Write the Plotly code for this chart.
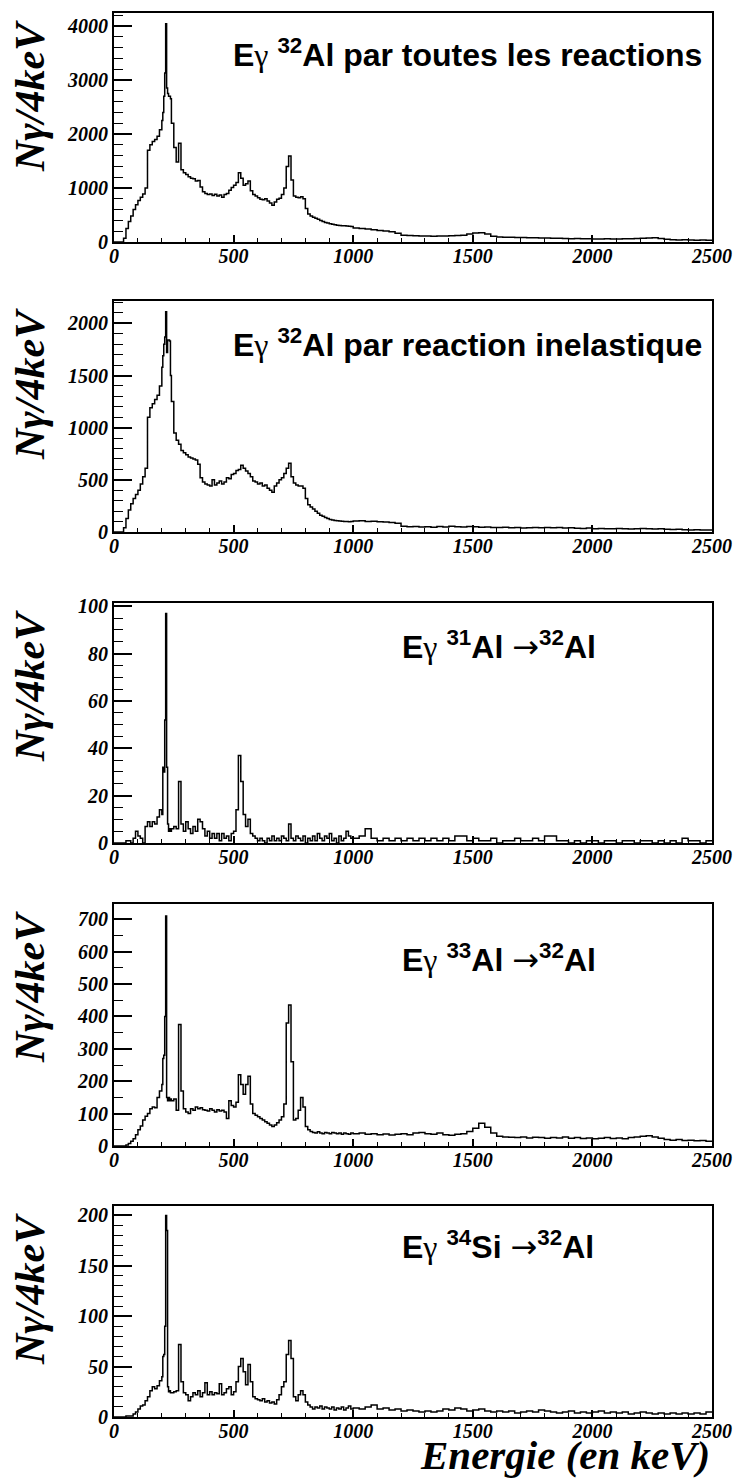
import plotly.graph_objects as go

W, H = 733, 1479

# Bin lower edges in keV (10 keV below 200, 4 keV from 200 to 240, 10 keV to 1000, 25 keV to 2500)
bin_edges = (list(range(0, 200, 10)) + list(range(200, 240, 4))
             + list(range(240, 1000, 10)) + list(range(1000, 2501, 25)))

# ---- counts per bin ----
counts_all = (
    [0, 0, 0, 0, 70, 250, 380, 480, 600, 690, 770, 830, 890, 1000, 1700, 1800, 1860, 1900, 1960, 2080]
    + [2250, 2400, 2700, 3130, 4040, 2850, 2750, 2700, 2700, 2650]
    + [2200, 1750, 1480, 1830, 1340, 1280,
       1250, 1210, 1180, 1170, 1130, 1140, 1020, 930, 900, 880,
       890, 860, 885, 850, 870, 830, 880, 900, 960, 1010,
       1050, 1100, 1280, 1180, 1050, 1080, 1130, 950, 880, 850,
       820, 790, 780, 800, 760, 720, 680, 740, 790, 810,
       880, 1000, 1400, 1590, 1150, 850, 830, 820, 840, 800,
       620, 520, 480, 460, 440, 420, 400, 380, 360, 350,
       340, 330, 320, 310, 305, 300, 300, 295, 290, 285]
    + [260, 250, 240, 225, 215, 205, 190, 160, 125, 120,
       118, 112, 110, 108, 112, 110, 115, 120, 125, 150,
       165, 170, 150, 105, 92, 90, 86, 84, 82, 80,
       78, 76, 72, 70, 68, 66, 62, 64, 60, 58,
       56, 55, 58, 54, 56, 60, 62, 66, 70, 75,
       80, 65, 50, 42, 38, 40, 36, 34, 35, 32]
)

counts_inel = (
    [0, 0, 0, 0, 40, 130, 210, 270, 320, 360, 400, 460, 530, 610, 1100, 1190, 1230, 1270, 1310, 1400]
    + [1580, 1690, 1800, 1870, 2112, 1720, 1840, 1840, 1830, 1500]
    + [1250, 950, 880, 840, 780, 760,
       740, 720, 710, 700, 690, 650, 520, 480, 460, 450,
       440, 500, 450, 470, 490, 460, 480, 520, 510, 550,
       560, 590, 600, 640, 610, 585, 560, 530, 490, 480,
       460, 470, 440, 450, 420, 400, 380, 440, 470, 500,
       520, 560, 610, 660, 530, 470, 450, 440, 440, 420,
       320, 260, 240, 220, 200, 180, 160, 150, 140, 130,
       120, 115, 110, 108, 105, 102, 100, 100, 98, 100]
    + [105, 108, 100, 102, 98, 96, 92, 85, 55, 50,
       52, 48, 50, 46, 52, 48, 55, 50, 48, 52,
       50, 46, 48, 44, 42, 45, 40, 42, 38, 40,
       42, 40, 44, 40, 42, 38, 40, 36, 34, 38,
       32, 34, 30, 32, 34, 30, 28, 32, 34, 30,
       28, 32, 26, 24, 26, 22, 20, 22, 18, 20]
)

counts_31al = (
    [0, 0, 0, 0, 0, 1, 1, 0, 2, 5, 3, 2, 0, 7, 9, 7, 9, 8, 11, 14]
    + [12, 32, 30, 52, 97, 32, 8, 5, 6, 5]
    + [6, 7, 6, 26, 8, 5,
       9, 6, 4, 7, 5, 10, 9, 6, 3, 5,
       2, 4, 2, 4, 1, 4, 2, 3, 1, 4,
       5, 14, 37, 26, 12, 7, 10, 4, 3, 2,
       1, 2, 1, 0, 2, 1, 3, 1, 2, 1,
       3, 2, 1, 8, 2, 1, 3, 2, 1, 3,
       0, 2, 1, 3, 1, 4, 2, 1, 3, 2,
       4, 1, 2, 0, 3, 1, 2, 5, 3, 2]
    + [2, 3, 6, 2, 1, 2, 1, 2, 1, 2,
       1, 2, 1, 2, 1, 2, 1, 3, 3, 1,
       2, 1, 1, 2, 0, 1, 1, 2, 1, 1,
       2, 1, 3, 3, 1, 1, 0, 1, 0, 1,
       1, 0, 1, 1, 0, 1, 1, 0, 1, 1,
       0, 1, 0, 1, 0, 2, 1, 1, 0, 1]
)

counts_33al = (
    [0, 0, 0, 0, 0, 3, 8, 15, 22, 35, 50, 62, 80, 92, 100, 115, 120, 118, 150, 170]
    + [190, 270, 280, 400, 710, 150, 140, 150, 140, 145]
    + [140, 145, 110, 375, 170, 115,
       105, 100, 115, 110, 120, 115, 118, 112, 110, 108,
       115, 110, 105, 112, 108, 110, 105, 85, 140, 125,
       120, 135, 220, 190, 160, 190, 215, 130, 100, 95,
       90, 85, 80, 75, 70, 65, 60, 65, 72, 80,
       90, 130, 380, 435, 260, 80, 85, 110, 150, 120,
       60, 50, 45, 42, 40, 44, 40, 38, 42, 40,
       38, 42, 40, 38, 40, 36, 40, 38, 36, 40]
    + [38, 40, 36, 38, 35, 37, 34, 36, 38, 35,
       40, 42, 38, 36, 40, 35, 33, 36, 38, 45,
       55, 70, 58, 40, 30, 28, 27, 26, 28, 25,
       27, 26, 24, 26, 25, 28, 24, 26, 23, 25,
       22, 24, 26, 23, 25, 22, 26, 28, 30, 32,
       28, 24, 20, 18, 20, 17, 18, 16, 17, 15]
)

counts_34si = (
    [0, 0, 0, 0, 0, 1, 1, 1, 3, 5, 8, 11, 12, 16, 20, 26, 30, 28, 31, 36]
    + [40, 60, 62, 90, 200, 185, 30, 25, 26, 24]
    + [24, 25, 26, 72, 35, 24,
       22, 16, 20, 24, 22, 26, 20, 24, 34, 22,
       25, 22, 24, 23, 33, 22, 24, 28, 30, 22,
       25, 35, 50, 58, 45, 32, 52, 35, 20, 18,
       17, 16, 18, 15, 16, 14, 15, 13, 17, 22,
       30, 35, 62, 76, 58, 20, 16, 22, 26, 22,
       15, 12, 10, 8, 10, 9, 11, 8, 10, 9,
       8, 10, 7, 9, 8, 10, 7, 9, 11, 8]
    + [9, 8, 10, 12, 8, 9, 7, 8, 6, 7,
       6, 5, 6, 5, 6, 8, 7, 9, 8, 6,
       7, 8, 6, 5, 6, 5, 6, 4, 5, 6,
       5, 7, 6, 5, 4, 5, 6, 4, 5, 4,
       5, 6, 4, 5, 4, 5, 3, 4, 5, 4,
       3, 4, 3, 4, 3, 4, 3, 4, 3, 5]
)

series = [counts_all, counts_inel, counts_31al, counts_33al, counts_34si]

GAMMA = "<span style=\"font-family:'Liberation Serif';font-weight:normal\">γ</span>"
ARROW = "<span style=\"font-family:'DejaVu Sans';font-weight:normal\">→</span>"
titles = [
    "E" + GAMMA + " <sup>32</sup>Al par toutes les reactions",
    "E" + GAMMA + " <sup>32</sup>Al par reaction inelastique",
    "E" + GAMMA + " <sup>31</sup>Al " + ARROW + "<sup>32</sup>Al",
    "E" + GAMMA + " <sup>33</sup>Al " + ARROW + "<sup>32</sup>Al",
    "E" + GAMMA + " <sup>34</sup>Si " + ARROW + "<sup>32</sup>Al",
]
y_max = [4240, 2214, 101.4, 747, 209.3]
y_major = [1000, 500, 20, 100, 50]
y_minor = [200, 100, 5, 50, 10]
x_tick_step = 500
x_minor_step = 100

# ---- layout geometry (pixels) ----
frame_left, frame_right = 114, 712
frame_tops = [13, 301, 603, 904, 1206]
frame_bottoms = [242, 532, 843, 1146, 1417]
title_pos = [("right", 704, 53), ("right", 704, 343), ("left", 400, 645), ("left", 400, 958), ("left", 400, 1245)]

def px_x(x):
    return x / W

def px_y(y):
    return 1 - y / H

fig = go.Figure()
tick_font = dict(family="Liberation Serif", size=20, color="black", weight="bold", style="italic")
xs = bin_edges
annotations = []
for i, vals in enumerate(series):
    n = i + 1
    ys = list(vals) + [vals[-1]]
    fig.add_trace(go.Scatter(x=xs, y=ys, mode="lines", line=dict(shape="hv", color="black", width=1.5),
                             xaxis=f"x{n}", yaxis=f"y{n}", showlegend=False, hoverinfo="skip"))
    xa = dict(domain=[px_x(frame_left), px_x(frame_right)], range=[0, 2500], anchor=f"y{n}",
              showline=True, linecolor="black", linewidth=2, mirror=True,
              ticks="inside", ticklen=7, tickwidth=1.5, tickcolor="black",
              dtick=x_tick_step, tick0=0, showgrid=False, zeroline=False,
              tickfont=dict(tick_font), automargin=False, ticklabelstandoff=-5,
              minor=dict(dtick=x_minor_step, ticks="inside", ticklen=4, tickwidth=1.2, tickcolor="black", showgrid=False))
    ya = dict(domain=[px_y(frame_bottoms[i]), px_y(frame_tops[i])], range=[0, y_max[i]], anchor=f"x{n}",
              showline=True, linecolor="black", linewidth=2, mirror=True,
              ticks="inside", ticklen=18, tickwidth=1.5, tickcolor="black",
              dtick=y_major[i], tick0=0, showgrid=False, zeroline=False,
              tickfont=dict(tick_font), automargin=False,
              minor=dict(dtick=y_minor[i], ticks="inside", ticklen=9, tickwidth=1.2, tickcolor="black", showgrid=False))
    fig.update_layout({f"xaxis{n if n > 1 else ''}": xa, f"yaxis{n if n > 1 else ''}": ya})

    anchor, tx, ty = title_pos[i]
    annotations.append(dict(text=titles[i], x=px_x(tx), y=px_y(ty), xref="paper", yref="paper",
                            xanchor=anchor, yanchor="middle", showarrow=False,
                            font=dict(family="Liberation Sans", size=32, color="black", weight="bold")))
    annotations.append(dict(text="Nγ/4keV", x=px_x(30), y=px_y(frame_tops[i] + 5), xref="paper", yref="paper",
                            xanchor="center", yanchor="top", showarrow=False, textangle=-90,
                            font=dict(family="Liberation Serif", size=42, color="black", weight="bold", style="italic")))

annotations.append(dict(text="Energie (en keV)", x=px_x(711), y=px_y(1479), xref="paper", yref="paper",
                        xanchor="right", yanchor="bottom", showarrow=False, borderpad=0,
                        font=dict(family="Liberation Serif", size=41, color="black", weight="bold", style="italic")))

fig.update_layout(width=W, height=H, margin=dict(l=0, r=0, t=0, b=0),
                  paper_bgcolor="white", plot_bgcolor="white", template="none",
                  annotations=annotations)

fig.write_html("out.html", config={"displayModeBar": False},
               post_script="document.body.style.margin='0px';document.body.style.overflow='hidden';")
